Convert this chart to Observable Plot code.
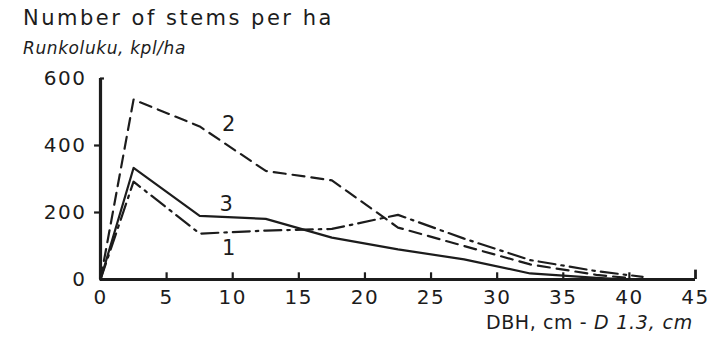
<!DOCTYPE html>
<html>
<head>
<meta charset="utf-8">
<script src="https://cdn.jsdelivr.net/npm/d3@7"></script>
<script src="https://cdn.jsdelivr.net/npm/@observablehq/plot@0.6"></script>
<style>
  html, body { margin: 0; padding: 0; background: #fff; }
  #wrap { position: relative; width: 714px; height: 337px; overflow: hidden; font-family: "DejaVu Sans", sans-serif; color: #1c1c1c; }
  #wrap svg { position: absolute; left: 0; top: 0; }
  .t1 { position: absolute; left: 23px; top: 8px; font-size: 21px; line-height: 21px; letter-spacing: 2.5px; white-space: nowrap; }
  .t2 { position: absolute; left: 23px; top: 40px; font-size: 17px; line-height: 17px; font-style: italic; letter-spacing: 0.6px; white-space: nowrap; }
  .xl { position: absolute; right: 21px; top: 313px; font-size: 19px; line-height: 19px; letter-spacing: 0.6px; white-space: nowrap; }
  .xl i { letter-spacing: 0.8px; }
  #wrap svg g[aria-label$="tick label"] text { letter-spacing: 1.5px; }
</style>
</head>
<body>
<div id="wrap">
  <div class="t1">Number of stems per ha</div>
  <div class="t2">Runkoluku, kpl/ha</div>
  <div class="xl">DBH, cm - <i>D 1.3, cm</i></div>
</div>
<script>
// Diameter class midpoints (cm) and stem counts per hectare for each stand
const dbh1 = [0, 2.5, 7.5, 12.5, 17.5, 22.5, 27.5, 32.5, 37.5, 41];
const stems1 = [0, 292, 137, 146, 151, 193, 122, 58, 25, 8];

const dbh2 = [0, 2.5, 7.5, 12.5, 17.5, 22.5, 27.5, 32.5, 37.5, 40];
const stems2 = [0, 537, 457, 324, 296, 155, 100, 45, 14, 4];

const dbh3 = [0, 2.5, 7.5, 12.5, 17.5, 22.5, 27.5, 32.5, 37.5, 40];
const stems3 = [0, 333, 190, 181, 125, 90, 60, 18, 5, 0];

// Curve numbers and where they are written
const seriesNames = ["1", "2", "3"];
const labelX = [9.7, 9.7, 9.5];
const labelY = [92, 463, 226];

const xTicks = [0, 5, 10, 15, 20, 25, 30, 35, 40, 45];
const yTicks = [0, 200, 400, 600];

const ink = "#1c1c1c";

const rows = (xs, ys, s) => xs.map((x, i) => ({ dbh: x, stems: ys[i], series: s }));
const s1 = rows(dbh1, stems1, "1");
const s2 = rows(dbh2, stems2, "2");
const s3 = rows(dbh3, stems3, "3");
const labels = seriesNames.map((s, i) => ({ s, x: labelX[i], y: labelY[i] }));

const chart = Plot.plot({
  width: 714,
  height: 337,
  marginLeft: 100,
  marginRight: 19,
  marginTop: 78,
  marginBottom: 58,
  style: { fontFamily: "DejaVu Sans, sans-serif", color: ink, background: "transparent", overflow: "visible" },
  x: { domain: [0, 45] },
  y: { domain: [0, 600] },
  marks: [
    // axis labels
    Plot.axisX({ ticks: xTicks, tickSize: 0, tickPadding: 10, fontSize: 20, label: null, fill: ink, tickFormat: d => d }),
    Plot.axisY({ ticks: yTicks, tickSize: 0, tickPadding: 14, fontSize: 20, label: null, fill: ink, tickFormat: d => d }),
    // inward ticks on the x axis
    Plot.ruleX(xTicks.slice(1, -1), { x: d => d, y1: 0, y2: 20, stroke: ink, strokeWidth: 2.2 }),
    Plot.ruleX([45], { x: d => d, y1: 0, y2: 28, stroke: ink, strokeWidth: 2.8 }),
    // outward ticks on the y axis
    Plot.ruleY([200, 400], { y: d => d, x1: -0.45, x2: 0, stroke: ink, strokeWidth: 2.2 }),
    Plot.ruleY([600], { y: d => d, x1: 0, x2: 0.3, stroke: ink, strokeWidth: 2.2 }),
    // axis lines
    Plot.ruleY([0], { stroke: ink, strokeWidth: 3.2 }),
    Plot.ruleX([0], { stroke: ink, strokeWidth: 3.2 }),
    // curves
    Plot.line(s1, { x: "dbh", y: "stems", stroke: ink, strokeWidth: 2.2, strokeDasharray: "17,6,2.5,6" }),
    Plot.line(s2, { x: "dbh", y: "stems", stroke: ink, strokeWidth: 2.2, strokeDasharray: "12,7" }),
    Plot.line(s3, { x: "dbh", y: "stems", stroke: ink, strokeWidth: 2.2 }),
    Plot.text(labels, { x: "x", y: "y", text: "s", fontSize: 21, fill: ink })
  ]
});

document.getElementById("wrap").prepend(chart);
</script>
</body>
</html>
